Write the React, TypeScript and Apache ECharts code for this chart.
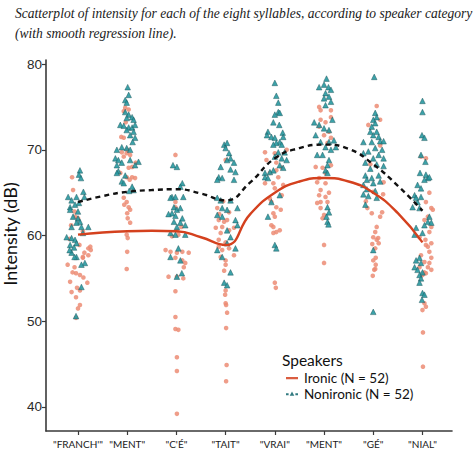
import React, { useEffect, useRef } from "react";
import * as echarts from "echarts";

// ---------- data ----------
const categories = ['"FRANCH\'"', '"MENT"', '"C\'É"', '"TAIT"', '"VRAI"', '"MENT"', '"GÉ"', '"NIAL"'];
const categoryPositions = [1, 2, 3, 4, 5, 6, 7, 8];
const yTicks = [40, 50, 60, 70, 80];

const IRONIC = "Ironic (N = 52)";
const NONIRONIC = "Nonironic (N = 52)";

// jittered points: [x position, intensity dB]
const nonFranch = [[1.04,67.6],[1.02,67.1],[1.06,66.7],[1.11,65.1],[0.80,64.5],[0.97,64.5],[0.87,64.1],[1.13,64.5],[1.02,63.8],[0.94,63.6],[0.84,63.3],[0.84,63.0],[0.90,62.2],[1.00,62.0],[1.04,61.6],[0.97,61.5],[1.07,61.0],[0.87,61.0],[1.21,61.0],[0.77,59.8],[0.87,59.7],[0.94,59.5],[0.97,59.1],[0.84,58.9],[0.87,58.0],[0.97,57.5],[1.14,56.8],[1.07,56.6],[1.07,54.0],[0.96,50.6],[1.00,62.8],[1.10,60.3],[0.92,58.6],[0.83,58.3],[0.93,57.5]];
const ironFranch = [[0.88,66.8],[0.90,65.3],[0.93,62.8],[0.94,62.2],[1.00,62.0],[0.86,61.2],[1.10,60.5],[0.83,59.6],[1.03,58.9],[1.25,58.7],[1.21,58.5],[1.26,58.3],[1.13,58.0],[1.21,57.7],[1.10,57.5],[1.10,57.4],[0.79,56.6],[0.93,56.3],[0.89,55.7],[0.96,55.6],[1.04,55.4],[1.11,55.1],[0.84,54.6],[1.19,54.5],[0.98,53.9],[1.04,53.6],[0.87,53.4],[0.96,52.8],[1.04,51.9],[1.00,51.5],[0.96,50.4]];

const nonMent = [[2.01,77.3],[2.03,76.4],[1.96,75.8],[1.99,75.5],[1.96,74.4],[2.03,74.1],[2.10,73.8],[1.99,73.7],[2.13,73.5],[1.86,72.9],[1.93,72.8],[2.03,72.6],[2.10,72.6],[2.16,72.9],[2.13,72.1],[1.99,72.3],[2.06,71.7],[2.16,71.4],[2.11,70.9],[1.89,70.3],[1.99,70.2],[1.79,70.0],[2.06,70.0],[1.76,69.0],[1.82,68.8],[1.89,68.5],[1.79,68.2],[2.06,68.8],[2.23,68.6],[2.16,68.2],[1.82,67.5],[1.96,67.0],[1.89,66.3],[1.79,67.3],[1.93,66.1],[2.13,65.3],[2.10,65.7],[2.04,65.2]];
const ironMent = [[1.96,74.9],[2.03,74.7],[1.93,74.5],[1.97,73.2],[1.88,71.5],[1.93,71.4],[2.00,70.0],[1.89,69.7],[1.99,69.6],[2.06,69.4],[1.93,69.2],[2.17,68.5],[2.10,68.0],[2.03,67.9],[1.86,67.3],[1.99,66.8],[2.10,66.8],[2.16,66.7],[2.05,66.5],[1.93,64.4],[1.99,63.9],[1.94,63.6],[2.03,63.3],[2.06,63.0],[2.00,62.6],[2.01,62.0],[2.06,61.5],[1.99,60.1],[2.01,59.7],[2.00,58.1],[1.99,56.1]];

const nonCe = [[2.93,68.2],[3.01,68.0],[3.12,66.1],[3.08,65.7],[2.91,64.5],[2.98,64.5],[3.14,64.5],[2.88,64.4],[2.95,63.3],[3.01,63.0],[2.91,62.6],[3.08,63.2],[2.84,62.5],[2.98,62.3],[3.12,62.0],[2.95,61.6],[3.08,61.5],[3.18,61.2],[3.01,61.0],[2.88,60.3],[2.98,60.1],[3.18,60.1],[3.04,58.5],[2.88,57.5],[3.08,57.1],[3.11,55.6],[3.01,55.2]];
const ironCe = [[2.98,69.4],[2.98,63.9],[2.98,63.3],[3.10,61.0],[3.01,60.6],[2.91,59.9],[3.04,60.1],[2.78,58.3],[2.88,58.1],[3.01,58.0],[3.12,58.1],[3.25,58.0],[2.98,57.4],[3.12,57.1],[3.18,56.8],[3.15,56.3],[2.84,55.2],[3.01,55.2],[3.14,55.0],[2.98,53.5],[2.98,50.5],[2.98,49.1],[3.04,49.0],[3.01,45.8],[3.01,44.2],[3.01,39.2]];

const nonTait = [[3.97,70.6],[4.03,70.8],[4.00,70.2],[4.07,69.6],[4.10,69.0],[4.03,68.8],[4.17,68.5],[4.10,67.7],[4.20,67.4],[3.90,68.0],[3.86,66.8],[3.93,66.7],[3.83,66.5],[4.17,66.5],[3.83,64.4],[3.90,64.1],[4.10,64.1],[3.93,63.2],[4.03,63.0],[4.24,63.2],[3.83,62.4],[3.93,62.2],[4.20,61.8],[4.24,61.2],[4.03,60.6],[4.10,59.8],[4.03,59.1],[4.20,58.5],[4.10,55.7],[3.97,54.5],[4.03,54.2],[3.83,58.3],[3.93,57.5]];
const ironTait = [[4.00,68.8],[3.83,63.2],[3.87,62.5],[3.86,61.8],[3.97,61.6],[4.03,61.8],[3.93,61.0],[3.80,60.9],[3.90,60.3],[4.07,60.6],[4.17,60.9],[3.86,59.5],[4.00,59.2],[3.86,58.7],[3.93,58.3],[4.07,58.5],[4.17,57.7],[3.90,57.5],[4.00,57.1],[4.00,56.6],[3.97,55.9],[4.00,53.6],[3.99,53.1],[4.00,52.1],[4.01,51.9],[4.03,51.0],[4.01,49.2],[4.02,44.9],[4.01,43.0],[4.07,62.7],[3.95,64.0]];

const nonVrai = [[5.00,77.8],[5.03,76.3],[5.07,75.5],[5.07,74.4],[5.10,74.3],[5.00,74.1],[4.97,73.2],[5.09,72.9],[4.86,72.1],[4.84,71.7],[4.93,71.5],[5.00,71.4],[5.16,72.0],[5.17,71.5],[5.10,70.9],[5.03,70.8],[5.14,70.6],[4.97,70.6],[5.07,69.7],[5.20,69.7],[5.00,69.2],[5.14,69.0],[5.24,68.8],[5.10,68.2],[5.17,67.9],[4.97,67.6],[4.90,67.4],[4.80,67.3],[4.80,66.8],[4.86,66.7],[5.10,64.7],[4.93,63.9],[4.86,62.2],[5.00,58.9],[5.03,58.5]];
const ironVrai = [[4.80,69.7],[5.00,69.6],[4.83,68.8],[5.24,70.0],[5.03,68.5],[5.14,67.9],[4.90,67.3],[5.03,67.6],[5.07,66.8],[4.80,66.1],[4.97,66.1],[5.00,65.5],[5.17,65.9],[5.14,64.7],[4.93,63.9],[5.03,63.3],[4.97,62.6],[5.00,62.2],[4.93,61.2],[4.97,61.0],[5.10,60.6],[5.03,60.4],[4.97,60.3],[5.00,54.5],[5.02,53.9],[4.90,64.3],[5.12,63.0]];

const nonMent2 = [[6.05,78.3],[6.00,77.6],[6.09,77.3],[5.90,77.3],[6.14,77.0],[6.03,76.6],[6.10,76.2],[6.00,76.0],[6.14,75.6],[6.03,75.2],[5.80,73.2],[5.90,72.9],[6.00,72.5],[6.10,72.3],[6.17,73.5],[6.20,71.1],[6.10,70.9],[5.83,71.7],[5.93,70.9],[6.03,70.3],[5.86,69.4],[5.97,69.4],[6.14,70.0],[6.24,70.3],[6.10,68.8],[6.07,68.2],[6.03,67.6],[6.07,67.3],[6.07,63.3],[6.10,62.7],[6.05,62.2],[6.07,61.6],[6.09,61.3]];
const ironMent2 = [[5.90,75.0],[5.93,74.6],[6.14,74.6],[5.93,73.5],[6.03,73.2],[6.14,73.8],[5.90,72.7],[6.10,72.1],[6.00,71.7],[6.14,71.4],[6.07,70.8],[5.83,68.0],[5.97,67.9],[6.14,68.2],[6.03,67.3],[5.90,66.7],[5.86,66.2],[6.03,66.1],[5.93,65.3],[6.10,65.0],[5.90,64.7],[6.03,64.5],[5.93,63.9],[6.07,63.9],[5.86,63.8],[5.93,63.2],[6.00,62.4],[5.97,62.0],[6.00,58.9],[6.00,56.8]];

const nonGe = [[7.02,78.5],[7.04,74.3],[7.07,73.8],[7.00,73.5],[7.04,73.1],[6.97,72.7],[6.94,72.1],[7.07,72.1],[7.00,71.7],[7.11,71.5],[7.14,71.0],[6.97,70.9],[6.80,70.9],[7.21,71.0],[7.04,70.2],[7.18,70.0],[6.90,69.8],[6.80,69.6],[7.11,69.4],[7.00,69.0],[7.21,69.0],[6.84,68.5],[7.07,68.3],[7.21,68.1],[6.94,67.8],[6.84,67.0],[7.11,67.0],[6.97,66.7],[7.14,66.3],[6.87,66.5],[6.80,65.9],[7.00,66.1],[6.87,65.4],[7.04,65.2],[6.80,64.8],[6.90,64.6],[7.07,64.4],[6.84,63.6],[7.00,58.3],[7.00,51.1]];
const ironGe = [[7.07,75.1],[7.14,73.5],[6.90,72.9],[7.14,70.5],[6.94,68.3],[7.21,66.2],[7.00,65.1],[6.85,64.0],[7.18,62.7],[6.97,62.6],[7.14,62.2],[7.07,61.0],[7.04,60.4],[7.00,59.8],[7.07,59.5],[7.11,59.1],[7.10,59.7],[6.98,59.0],[7.04,58.5],[7.05,57.4],[7.00,57.1],[7.05,56.6],[7.04,56.1],[7.02,56.0],[6.99,55.3],[6.88,63.2],[7.20,64.8]];

const nonNial = [[8.00,75.7],[8.00,74.4],[7.99,71.7],[8.04,71.4],[7.97,69.4],[8.06,68.6],[7.95,67.3],[8.07,67.1],[8.11,66.7],[8.04,66.5],[8.14,66.8],[7.90,65.9],[7.97,65.5],[7.84,64.7],[7.97,64.5],[7.90,63.9],[7.80,63.3],[7.94,63.2],[7.87,64.4],[8.14,62.2],[8.11,61.6],[8.04,61.2],[8.18,61.5],[7.87,60.9],[8.00,60.3],[7.84,60.1],[7.94,57.4],[7.87,57.1],[7.97,56.8],[7.84,56.3],[7.90,56.0],[8.00,55.7],[7.94,55.4],[7.97,55.0],[7.94,54.5],[8.00,53.3],[8.04,53.1],[7.99,52.5]];
const ironNial = [[7.97,69.2],[8.07,69.0],[8.14,65.0],[8.07,63.9],[8.18,63.2],[8.21,63.0],[8.11,62.2],[8.04,61.8],[8.18,61.0],[8.14,60.4],[7.94,59.8],[8.06,59.5],[8.18,59.1],[8.07,58.9],[8.11,58.7],[8.14,58.1],[7.97,57.7],[8.04,56.9],[8.18,57.4],[8.14,56.8],[7.94,56.3],[8.11,56.3],[8.04,55.7],[8.18,56.0],[8.07,55.6],[8.00,55.4],[8.04,52.1],[8.00,51.3],[8.07,51.7],[8.01,48.7],[8.01,44.7]];

// smooth regression lines
const smoothX = [1, 1.5, 2, 2.5, 3, 3.5, 4, 4.5, 5, 5.5, 6, 6.5, 7, 7.5, 8];
const ironicSmooth = [60.1, 60.35, 60.5, 60.55, 60.5, 59.8, 58.9, 62.5, 65.0, 66.3, 66.7, 66.3, 65.0, 62.6, 59.2];
const nonironicSmooth = [63.9, 64.6, 65.1, 65.3, 65.4, 64.9, 64.1, 66.2, 69.0, 70.2, 70.6, 70.1, 68.3, 65.8, 62.9];

const ironicPoints = [...ironFranch, ...ironMent, ...ironCe, ...ironTait, ...ironVrai, ...ironMent2, ...ironGe, ...ironNial];
const nonironicPoints = [...nonFranch, ...nonMent, ...nonCe, ...nonTait, ...nonVrai, ...nonMent2, ...nonGe, ...nonNial];

const RED = "#d4411e";
const SALMON = "#ec8c74";
const TEAL = "#2798a0";

export default function App() {
  const ref = useRef<HTMLDivElement>(null);
  useEffect(() => {
    if (!ref.current) return;
    const chart = echarts.init(ref.current, null, { renderer: "svg" });
    const axisLine = { show: true, lineStyle: { color: "#3a3a3a", width: 1.6 } };
    chart.setOption({
      animation: false,
      backgroundColor: "#fff",
      title: [
        {
          text: "Scatterplot of intensity for each of the eight syllables, according to speaker category\n(with smooth regression line).",
          left: 10,
          top: -2,
          textStyle: {
            fontFamily: "Liberation Serif",
            fontStyle: "italic",
            fontWeight: "normal",
            fontSize: 13.55,
            lineHeight: 20,
            color: "#1a1a1a",
          },
        },
        {
          text: "Speakers",
          left: 277,
          top: 347,
          textStyle: { fontFamily: "Lato", fontWeight: "normal", fontSize: 15.5, color: "#111" },
        },
      ],
      graphic: [
        {
          type: "text",
          x: 10,
          y: 234,
          rotation: Math.PI / 2,
          style: {
            text: "Intensity (dB)",
            fontFamily: "Lato",
            fontSize: 18,
            fill: "#111",
            align: "center",
            verticalAlign: "middle",
          },
        },
      ],
      legend: {
        left: 280,
        top: 366,
        orient: "vertical",
        itemWidth: 14,
        itemHeight: 10,
        itemGap: 2,
        selectedMode: false,
        textStyle: { fontFamily: "Lato", fontSize: 13.5, color: "#111" },
        data: [
          {
            name: IRONIC,
            icon: "path://M0,0L0.01,0L0,0.01Z M14,10L13.99,10L14,9.99Z M1,4L13,4L13,6.2L1,6.2Z",
            itemStyle: { color: RED, borderWidth: 0 },
          },
          {
            name: NONIRONIC,
            icon: "path://M0,0L0.01,0L0,0.01Z M14,10L13.99,10L14,9.99Z M1,4.2L3.6,4.2L3.6,6.2L1,6.2Z M10.4,4.2L13,4.2L13,6.2L10.4,6.2Z M7,2.5L9.3,6.7L4.7,6.7Z",
            itemStyle: { color: "#1b6c72", borderWidth: 0 },
          },
        ],
      },
      grid: { left: 46, right: 22, top: 60, bottom: 18, containLabel: false },
      xAxis: {
        type: "value",
        min: 0.35,
        max: 8.6,
        splitLine: { show: false },
        axisLine,
        axisTick: { show: true, length: 4, lineStyle: { color: "#3a3a3a", width: 1.2 }, customValues: categoryPositions },
        axisLabel: {
          customValues: categoryPositions,
          formatter: (v: number) => categories[Math.round(v) - 1] ?? "",
          fontFamily: "Lato",
          fontSize: 10,
          color: "#1a1a1a",
          margin: 8,
        },
      },
      yAxis: {
        type: "value",
        min: 37.2,
        max: 80.47,
        splitLine: { show: false },
        axisLine,
        axisTick: { show: true, length: 4, lineStyle: { color: "#3a3a3a", width: 1.2 }, customValues: yTicks },
        axisLabel: {
          customValues: yTicks,
          fontFamily: "Liberation Sans",
          fontSize: 13.5,
          color: "#2a2a2a",
          margin: 4,
        },
      },
      series: [
        {
          name: IRONIC,
          type: "scatter",
          symbol: "circle",
          symbolSize: 4.6,
          itemStyle: { color: SALMON, opacity: 0.85 },
          data: ironicPoints,
          z: 2,
        },
        {
          name: NONIRONIC,
          type: "scatter",
          symbol: "triangle",
          symbolSize: 5.6,
          itemStyle: { color: TEAL, borderColor: "#1d5459", borderWidth: 0.5, opacity: 0.9 },
          data: nonironicPoints,
          z: 3,
        },
        {
          name: IRONIC,
          type: "line",
          smooth: 0.5,
          symbol: "none",
          lineStyle: { color: RED, width: 2.4 },
          itemStyle: { color: RED },
          data: smoothX.map((x, i) => [x, ironicSmooth[i]]),
          z: 5,
        },
        {
          name: NONIRONIC,
          type: "line",
          smooth: 0.5,
          symbol: "none",
          lineStyle: { color: "#111", width: 2.4, type: [5, 4] },
          itemStyle: { color: "#111" },
          data: smoothX.map((x, i) => [x, nonironicSmooth[i]]),
          z: 5,
        },
      ],
    });
    return () => chart.dispose();
  }, []);
  return (
    <div
      ref={ref}
      style={{ position: "fixed", left: 0, top: 0, width: 474, height: 449, background: "#fff" }}
    />
  );
}
